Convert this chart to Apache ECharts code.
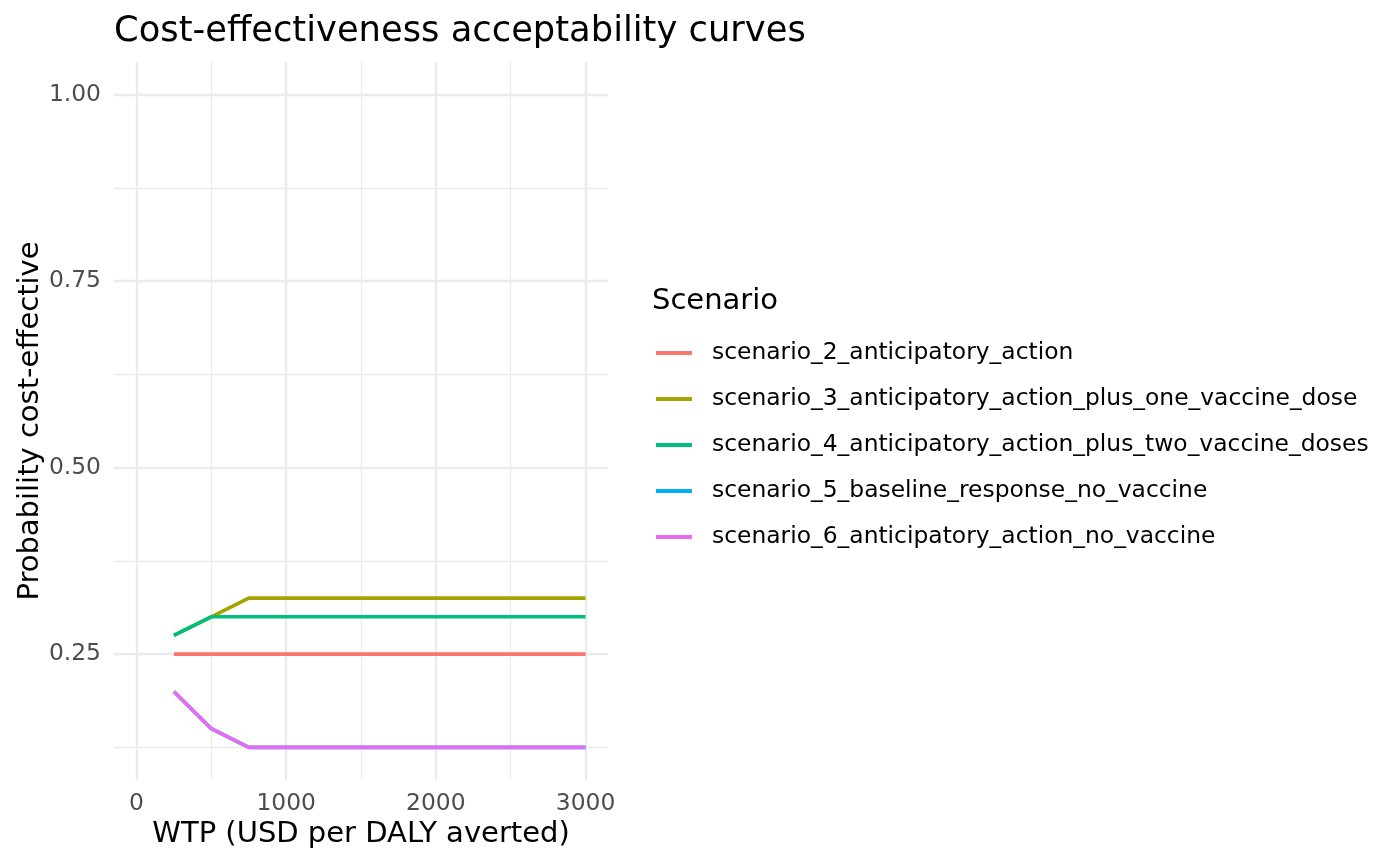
<!DOCTYPE html>
<html>
<head>
<meta charset="utf-8">
<script src="https://cdn.jsdelivr.net/npm/echarts@6/dist/echarts.min.js"></script>
<style>
  html, body { margin: 0; padding: 0; background: #fff; }
  #chart { width: 1400px; height: 865px; }
</style>
</head>
<body>
<div id="chart"></div>
<script>
// ---- data ----
const wtp = [250, 500, 750, 1000, 1250, 1500, 1750, 2000, 2250, 2500, 2750, 3000];
const scenarioNames = [
  'scenario_2_anticipatory_action',
  'scenario_3_anticipatory_action_plus_one_vaccine_dose',
  'scenario_4_anticipatory_action_plus_two_vaccine_doses',
  'scenario_5_baseline_response_no_vaccine',
  'scenario_6_anticipatory_action_no_vaccine'
];
const scenario2 = [0.25, 0.25, 0.25, 0.25, 0.25, 0.25, 0.25, 0.25, 0.25, 0.25, 0.25, 0.25];
const scenario3 = [0.275, 0.3, 0.325, 0.325, 0.325, 0.325, 0.325, 0.325, 0.325, 0.325, 0.325, 0.325];
const scenario4 = [0.275, 0.3, 0.3, 0.3, 0.3, 0.3, 0.3, 0.3, 0.3, 0.3, 0.3, 0.3];
const scenario5 = [0.2, 0.15, 0.125, 0.125, 0.125, 0.125, 0.125, 0.125, 0.125, 0.125, 0.125, 0.125];
const scenario6 = [0.2, 0.15, 0.125, 0.125, 0.125, 0.125, 0.125, 0.125, 0.125, 0.125, 0.125, 0.125];
const seriesValues = [scenario2, scenario3, scenario4, scenario5, scenario6];
const colors = ['#F8766D', '#A3A500', '#00BF7D', '#00B0F6', '#E76BF3'];
const xMajorTicks = [0, 1000, 2000, 3000];
const xMinorTicks = [500, 1500, 2500];
const yMajorTicks = [0.25, 0.5, 0.75, 1.0];
const yMinorTicks = [0.125, 0.375, 0.625, 0.875];
const xRange = [-150, 3150];
const yRange = [0.08125, 1.04375];

// ---- chart ----
const FONT = 'DejaVu Sans';
const chart = echarts.init(document.getElementById('chart'), null, { renderer: 'canvas' });
const grid = { left: 114, right: 792, top: 62, bottom: 85, containLabel: false };

const option = {
  backgroundColor: '#ffffff',
  animation: false,
  color: colors,
  title: [
    { text: 'Cost-effectiveness acceptability curves', left: 114, top: 14, padding: 0,
      textStyle: { fontFamily: FONT, fontSize: 35.3, fontWeight: 'normal', color: '#000' } },
    { text: 'Scenario', left: 652, top: 287, padding: 0,
      textStyle: { fontFamily: FONT, fontSize: 29, fontWeight: 'normal', color: '#000' } }
  ],
  legend: {
    orient: 'vertical', left: 656, top: 339, padding: 0,
    icon: 'rect', itemWidth: 36, itemHeight: 4, itemGap: 18,
    data: scenarioNames,
    textStyle: { fontFamily: FONT, fontSize: 23.4, color: '#000', lineHeight: 28, padding: [0, 0, 0, 15] }
  },
  grid: grid,
  xAxis: [
    {
      type: 'value', min: xRange[0], max: xRange[1],
      name: 'WTP (USD per DALY averted)', nameLocation: 'middle', nameGap: 40,
      nameTextStyle: { fontFamily: FONT, fontSize: 29, color: '#000' },
      axisLine: { show: false },
      axisTick: { show: false, customValues: xMajorTicks },
      axisLabel: { customValues: xMajorTicks, margin: 12, fontFamily: FONT, fontSize: 23.4, color: '#4D4D4D',
        formatter: v => String(v) },
      splitLine: { show: true, lineStyle: { color: '#EBEBEB', width: 2.4 } }
    },
    {
      type: 'value', min: xRange[0], max: xRange[1], position: 'bottom',
      axisLine: { show: false },
      axisTick: { show: false, customValues: xMinorTicks },
      axisLabel: { show: false, customValues: xMinorTicks },
      splitLine: { show: true, lineStyle: { color: '#EBEBEB', width: 1.3 } }
    }
  ],
  yAxis: [
    {
      type: 'value', min: yRange[0], max: yRange[1],
      name: 'Probability cost-effective', nameLocation: 'middle', nameGap: 68,
      nameTextStyle: { fontFamily: FONT, fontSize: 29, color: '#000' },
      axisLine: { show: false },
      axisTick: { show: false, customValues: yMajorTicks },
      axisLabel: { customValues: yMajorTicks, margin: 13, fontFamily: FONT, fontSize: 23.4, color: '#4D4D4D',
        formatter: v => v.toFixed(2) },
      splitLine: { show: true, lineStyle: { color: '#EBEBEB', width: 2.4 } }
    },
    {
      type: 'value', min: yRange[0], max: yRange[1], position: 'left',
      axisLine: { show: false },
      axisTick: { show: false, customValues: yMinorTicks },
      axisLabel: { show: false, customValues: yMinorTicks },
      splitLine: { show: true, lineStyle: { color: '#EBEBEB', width: 1.3 } }
    }
  ],
  series: scenarioNames.map((name, i) => ({
    name: name,
    type: 'line',
    xAxisIndex: 0, yAxisIndex: 0,
    showSymbol: false, symbol: 'none',
    lineStyle: { width: 3.6, color: colors[i] },
    itemStyle: { color: colors[i] },
    data: wtp.map((x, j) => [x, seriesValues[i][j]]),
    z: 10 + i
  }))
};
chart.setOption(option);
</script>
</body>
</html>
